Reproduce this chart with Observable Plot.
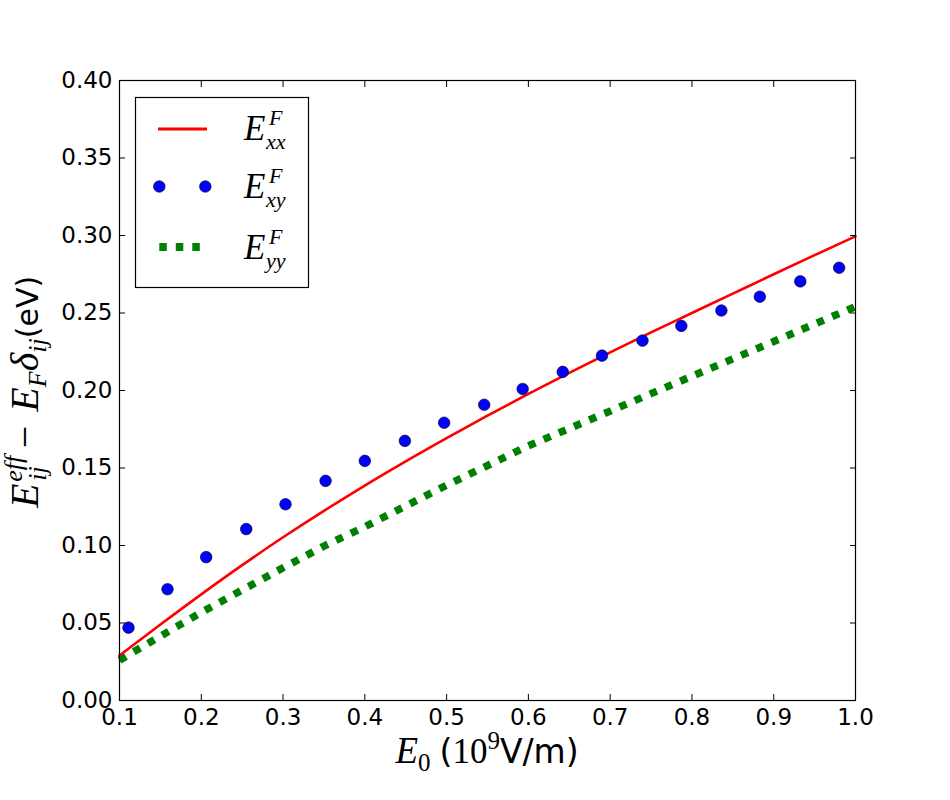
<!DOCTYPE html>
<html>
<head>
<meta charset="utf-8">
<script src="https://cdn.jsdelivr.net/npm/d3@7"></script>
<script src="https://cdn.jsdelivr.net/npm/@observablehq/plot@0.6"></script>
<style>
  body { margin: 0; background: #fff; }
  #chart svg { display: block; }
</style>
</head>
<body>
<div id="chart"></div>
<script>
// ---- data ----
const xxE0 = [0.10,0.15,0.20,0.25,0.30,0.35,0.40,0.45,0.50,0.55,0.60,0.65,0.70,0.75,0.80,0.85,0.90,0.95,1.00];
const xxVal = [0.029,0.049,0.0685,0.0873,0.1053,0.1224,0.1387,0.1543,0.1693,0.1838,0.1978,0.2114,0.2246,0.2375,0.2500,0.2625,0.2750,0.2873,0.2995];

const xyE0 = [0.111,0.1587,0.206,0.255,0.303,0.352,0.400,0.449,0.497,0.546,0.593,0.642,0.690,0.7395,0.787,0.836,0.883,0.9325,0.980];
const xyVal = [0.047,0.0718,0.0925,0.1106,0.1266,0.1417,0.1546,0.1675,0.1792,0.1908,0.2010,0.2120,0.2225,0.2322,0.2417,0.2516,0.2605,0.2704,0.2792];

const yyE0 = [0.10,0.15,0.20,0.25,0.30,0.35,0.40,0.45,0.50,0.55,0.60,0.65,0.70,0.75,0.80,0.85,0.90,0.95,1.00];
const yyVal = [0.026,0.0415,0.0568,0.0713,0.0856,0.0996,0.1121,0.1255,0.1389,0.1516,0.1643,0.1755,0.1867,0.198,0.2092,0.2204,0.2316,0.2429,0.2541];

const xTicks = [0.1,0.2,0.3,0.4,0.5,0.6,0.7,0.8,0.9,1.0];
const yTicks = [0.00,0.05,0.10,0.15,0.20,0.25,0.30,0.35,0.40];

const legendSubs = ["xx", "xy", "yy"];

const xx = xxE0.map((x, i) => ({x, y: xxVal[i]}));
const xy = xyE0.map((x, i) => ({x, y: xyVal[i]}));
const yy = yyE0.map((x, i) => ({x, y: yyVal[i]}));

const TS = -6; // inward ticks
const plot = Plot.plot({
  width: 950,
  height: 800,
  marginLeft: 119,
  marginRight: 95,
  marginTop: 80,
  marginBottom: 100,
  x: {domain: [0.1, 1.0]},
  y: {domain: [0, 0.40]},
  style: {fontFamily: "DejaVu Sans", fontSize: "23px", background: "white", color: "black"},
  marks: [
    Plot.line(yy, {x: "x", y: "y", stroke: "#008000", strokeWidth: 7.5, strokeDasharray: "7.5,9", strokeLinecap: "butt"}),
    Plot.line(xx, {x: "x", y: "y", stroke: "#ff0000", strokeWidth: 2.6, curve: "monotone-x"}),
    Plot.dot(xy, {x: "x", y: "y", r: 5.8, fill: "#0000ff", stroke: "black", strokeWidth: 0.6}),
    Plot.frame({stroke: "black", strokeWidth: 1.2}),
    Plot.axisX({anchor: "bottom", ticks: xTicks, tickFormat: d => d.toFixed(1), tickSize: TS, tickPadding: 14, label: null}),
    Plot.axisX({anchor: "top", ticks: xTicks, tickFormat: () => "", tickSize: TS, label: null}),
    Plot.axisY({anchor: "left", ticks: yTicks, tickFormat: d => d.toFixed(2), tickSize: TS, tickPadding: 13, label: null}),
    Plot.axisY({anchor: "right", ticks: yTicks, tickFormat: () => "", tickSize: TS, label: null})
  ]
});

const svg = d3.select(plot);
const serif = "Liberation Serif";
const sans = "DejaVu Sans";

// ---- legend ----
const lg = svg.append("g").attr("text-anchor", "start");
lg.append("rect").attr("x", 135.5).attr("y", 97.5).attr("width", 173).attr("height", 190)
  .attr("fill", "white").attr("stroke", "black").attr("stroke-width", 1.2);
lg.append("line").attr("x1", 158).attr("x2", 207).attr("y1", 129).attr("y2", 129)
  .attr("stroke", "#ff0000").attr("stroke-width", 2.8);
[159.3, 205.3].forEach(cx => lg.append("circle").attr("cx", cx).attr("cy", 186.5).attr("r", 5.8)
  .attr("fill", "#0000ff").attr("stroke", "black").attr("stroke-width", 0.6));
lg.append("line").attr("x1", 159.3).attr("x2", 200.5).attr("y1", 247).attr("y2", 247)
  .attr("stroke", "#008000").attr("stroke-width", 8).attr("stroke-dasharray", "7.5,9");

const rowBase = [140, 198, 259];
legendSubs.forEach((sub, i) => {
  const by = rowBase[i];
  const common = t => t.attr("text-anchor", "start").attr("font-family", serif)
    .attr("font-style", "italic").attr("fill", "black");
  common(lg.append("text")).attr("x", 244).attr("y", by).attr("font-size", 35).text("E");
  common(lg.append("text")).attr("x", 269).attr("y", by - 15).attr("font-size", 22).text("F");
  common(lg.append("text")).attr("x", 266).attr("y", by + 9).attr("font-size", 22).text(sub);
});

// ---- x label ----
const xl = svg.append("text").attr("x", 487).attr("y", 763).attr("text-anchor", "middle")
  .attr("font-size", 33).attr("fill", "black");
xl.append("tspan").attr("font-family", serif).attr("font-style", "italic").attr("font-size", 37).text("E");
xl.append("tspan").attr("font-family", serif).attr("font-size", 25).attr("dy", 8).text("0");
xl.append("tspan").attr("font-family", sans).attr("dy", -8).attr("dx", 9).text("(");
xl.append("tspan").attr("font-family", serif).attr("font-size", 35).text("10");
xl.append("tspan").attr("font-family", serif).attr("font-size", 25).attr("dy", -14).text("9");
xl.append("tspan").attr("font-family", sans).attr("dy", 14).text("V/m)");

// ---- y label ----
const yl = svg.append("text").attr("transform", "translate(38,392) rotate(-90)")
  .attr("text-anchor", "middle").attr("font-size", 30).attr("fill", "black");
yl.append("tspan").attr("font-family", serif).attr("font-style", "italic").attr("font-size", 40).text("E");
yl.append("tspan").attr("font-family", serif).attr("font-style", "italic").attr("font-size", 26).attr("dx", 2).attr("dy", -16).text("eff");
yl.append("tspan").attr("font-family", serif).attr("font-style", "italic").attr("font-size", 26).attr("dx", -25).attr("dy", 24).text("ij");
yl.append("tspan").attr("font-family", serif).attr("font-size", 40).attr("dx", 18).attr("dy", -8).text("−");
yl.append("tspan").attr("font-family", serif).attr("font-style", "italic").attr("font-size", 40).attr("dx", 14).text("E");
yl.append("tspan").attr("font-family", serif).attr("font-style", "italic").attr("font-size", 26).attr("dy", 8).text("F");
yl.append("tspan").attr("font-family", serif).attr("font-style", "italic").attr("font-size", 40).attr("dy", -8).text("δ");
yl.append("tspan").attr("font-family", serif).attr("font-style", "italic").attr("font-size", 26).attr("dy", 8).text("ij");
yl.append("tspan").attr("font-family", sans).attr("dy", -8).text("(eV)");

document.getElementById("chart").appendChild(plot);
</script>
</body>
</html>
